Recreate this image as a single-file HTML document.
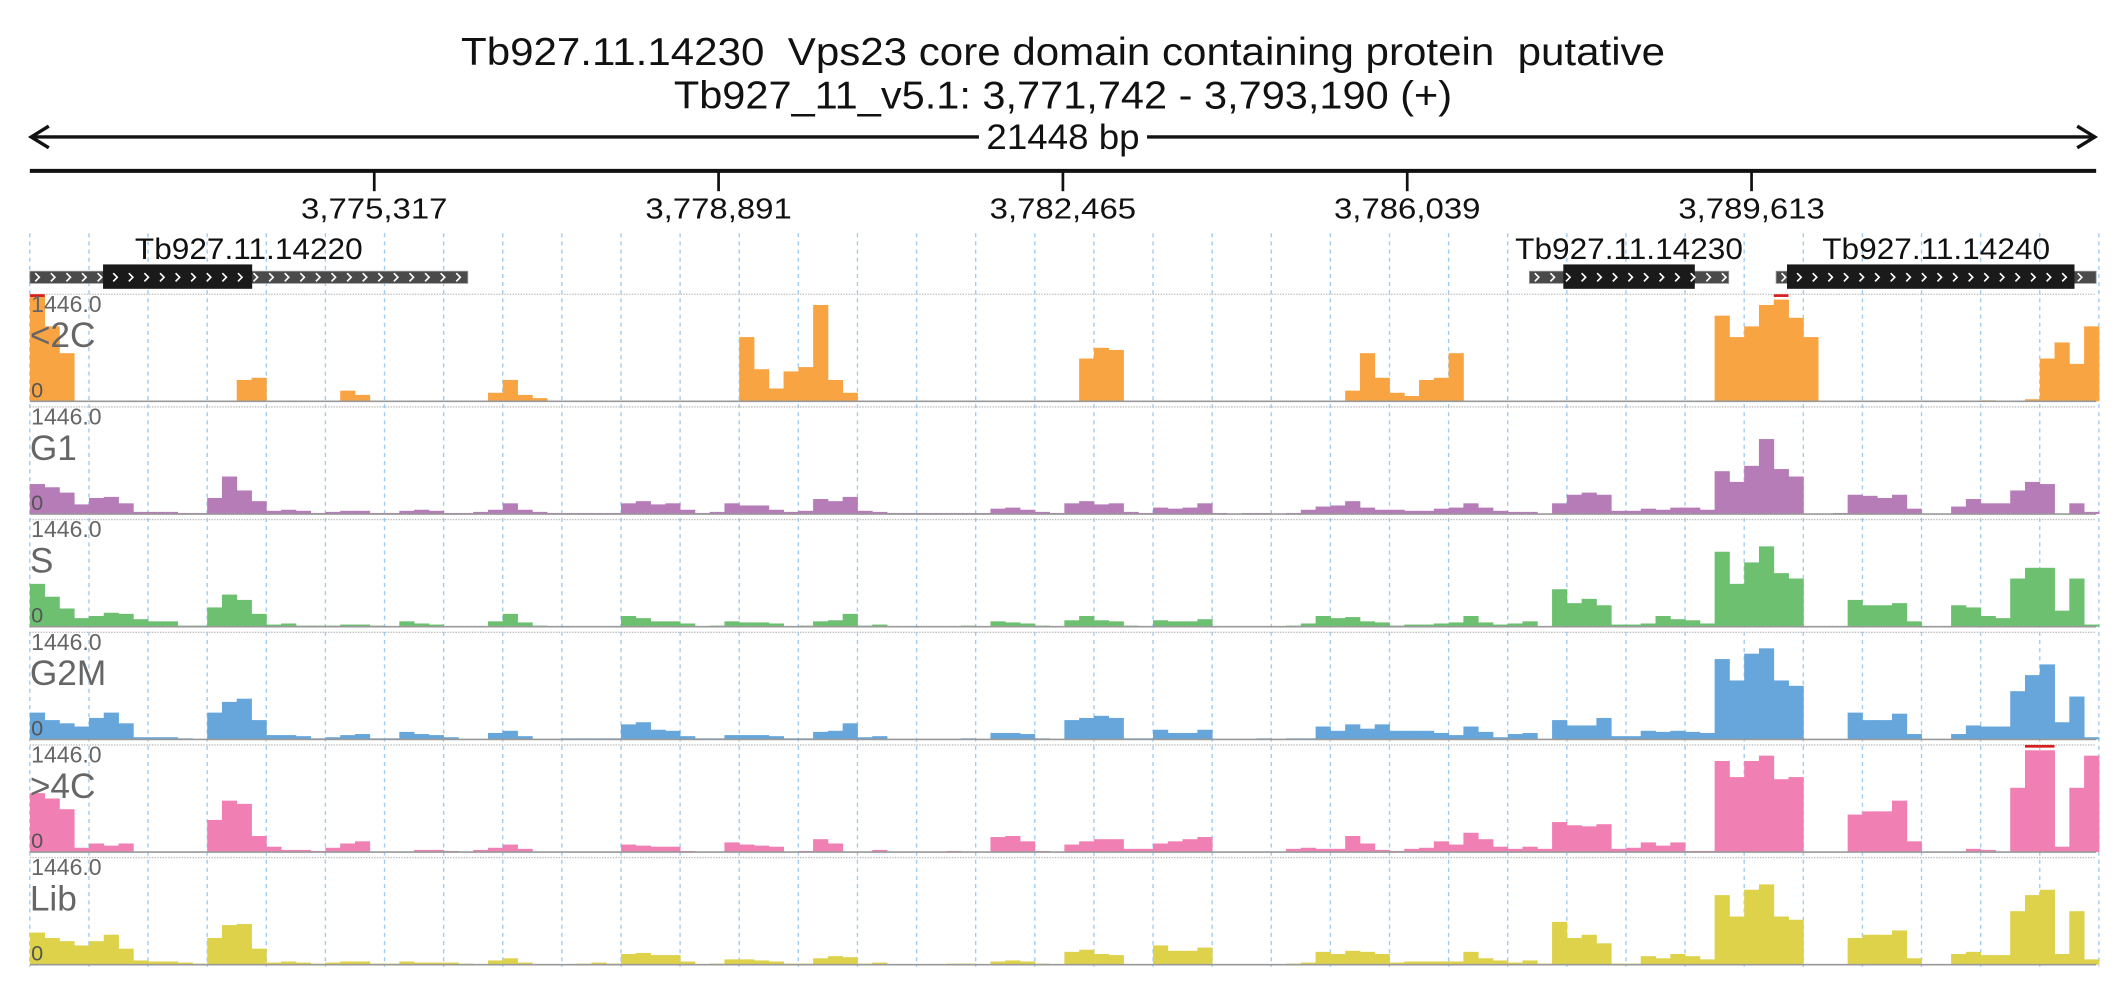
<!DOCTYPE html>
<html><head><meta charset="utf-8"><style>
html,body{margin:0;padding:0;background:#fff;}
svg{display:block;font-family:"Liberation Sans",sans-serif;}
text{white-space:pre;}
</style></head><body>
<svg id="chart" width="2126" height="1000" viewBox="0 0 1568 737.5" xmlns="http://www.w3.org/2000/svg">
<rect x="0" y="0" width="1568" height="737.5" fill="#fff"/>
<text x="784" y="48" font-size="29" text-anchor="middle" fill="#111" textLength="888" lengthAdjust="spacingAndGlyphs">Tb927.11.14230  Vps23 core domain containing protein  putative</text>
<text x="784" y="80" font-size="29" text-anchor="middle" fill="#111" textLength="574" lengthAdjust="spacingAndGlyphs">Tb927_11_v5.1: 3,771,742 - 3,793,190 (+)</text>
<g stroke="#111" stroke-width="2.5" fill="none">
<line x1="24" y1="101" x2="722" y2="101"/><line x1="846" y1="101" x2="1544" y2="101"/>
<polyline points="36,93 23,101 36,109"/><polyline points="1532,93 1545,101 1532,109"/>
</g>
<text x="784" y="110" font-size="26" text-anchor="middle" fill="#111" textLength="113" lengthAdjust="spacingAndGlyphs">21448 bp</text>
<line x1="22" y1="126" x2="1546" y2="126" stroke="#111" stroke-width="3"/>
<g id="ticks"></g>
<g id="grid"></g>
<g id="genes"></g>
<g id="tracks"></g>
</svg>
<script>
const tickLabels = ["3,775,317","3,778,891","3,782,465","3,786,039","3,789,613"];
const tickPositions = [3775317,3778891,3782465,3786039,3789613];
const trackNames = ["<2C","G1","S","G2M",">4C","Lib"];
const maxValue = 1446.0;
const genes = ["Tb927.11.14220","Tb927.11.14230","Tb927.11.14240"];
const geneStart = [3771742,3787307,3789868];
const geneEnd = [3776288,3789376,3793190];
const cdsStart = [3772502,3787659,3789981];
const cdsEnd = [3774050,3789024,3792965];
const v2C = [100,70,45,0,0,0,0,0,0,0,0,0,0,0,20,22,0,0,0,0,0,10,6,0,0,0,0,0,0,0,0,8,20,6,3,0,0,0,0,0,0,0,0,0,0,0,0,0,60,30,12,28,32,90,20,8,0,0,0,0,0,0,0,0,0,0,0,0,0,0,0,40,50,48,0,0,0,0,0,0,0,0,0,0,0,0,0,0,0,10,45,22,8,5,20,22,45,0,0,0,0,0,0,0,0,0,0,0,0,0,0,0,0,0,80,60,70,90,95,78,60,0,0,0,0,0,0,0,0,0,0,0,1,0,0,2,40,55,35,70];
const vG1 = [28,25,20,9,15,16,10,2,2,2,1,1,15,35,22,12,3,4,3,1,2,3,3,1,1,3,4,3,1,1,2,4,10,4,2,1,1,1,1,1,10,12,9,10,4,1,2,10,8,8,4,2,3,14,12,16,3,2,1,1,1,1,1,1,1,5,6,4,2,1,10,12,9,10,2,1,6,5,6,10,1,0,1,1,0,1,4,7,8,12,6,4,4,3,3,5,6,10,6,3,2,2,0,10,18,20,18,3,3,5,4,6,6,4,40,30,45,70,42,35,0,0,1,18,17,15,18,5,0,0,7,14,10,10,22,30,28,0,10,2];
const vS = [40,28,17,8,10,13,12,7,5,5,1,1,18,30,25,12,2,3,1,1,1,2,2,1,0,5,3,2,0,0,0,5,12,4,1,0,0,0,0,0,10,8,5,5,3,0,1,5,4,4,3,0,1,5,6,12,1,2,0,0,0,0,0,1,0,5,4,3,1,0,6,10,6,5,1,0,6,5,5,7,0,0,0,0,0,1,3,10,8,9,5,4,1,2,2,3,4,10,4,2,3,5,0,35,22,26,20,2,2,3,10,7,6,3,70,40,60,75,50,45,0,0,0,25,20,20,22,5,0,0,20,18,10,8,45,55,55,15,45,2];
const vG2M = [25,18,15,12,20,25,15,2,2,2,1,0,25,35,38,18,4,4,3,1,2,4,5,1,1,7,5,4,2,0,0,6,8,3,0,0,1,1,1,1,14,16,9,8,3,1,1,4,4,4,3,1,1,7,8,15,2,3,0,0,0,0,0,1,0,6,6,5,1,0,18,20,22,20,1,1,9,6,6,9,0,0,0,1,0,1,1,12,8,14,10,14,8,8,8,6,4,12,7,2,5,6,0,18,13,13,20,3,3,8,7,8,7,6,75,55,80,85,55,50,0,0,0,25,18,18,24,5,0,0,5,13,12,12,45,60,70,16,40,2];
const v4C = [55,50,40,4,8,6,8,0,0,0,0,0,30,48,45,15,5,2,2,1,4,8,10,0,0,0,2,2,1,0,2,4,7,3,0,0,0,0,0,0,7,6,5,5,1,0,0,9,7,6,5,0,1,12,8,0,0,2,0,0,0,0,1,0,0,14,15,10,1,0,7,10,12,12,3,3,8,10,12,14,0,0,0,0,0,3,4,3,3,15,8,2,1,3,4,10,7,18,12,5,3,5,3,28,25,24,26,3,4,9,6,9,1,1,85,70,85,90,68,70,0,0,0,35,38,38,48,10,0,0,0,3,2,0,60,95,95,5,60,90];
const vLib = [30,25,22,18,22,28,15,4,3,3,2,1,25,37,38,15,2,3,2,1,2,3,3,1,1,3,2,2,2,1,0,4,6,2,0,0,0,1,2,1,10,11,9,9,3,0,1,5,5,4,3,1,1,6,8,7,1,2,0,0,0,0,1,1,0,3,4,3,1,0,12,14,10,9,0,0,18,13,13,16,0,0,0,0,0,1,2,12,10,13,12,10,2,3,3,3,3,12,6,4,2,4,1,40,25,28,20,1,1,8,6,10,8,5,65,45,70,75,45,42,0,0,0,25,28,28,32,6,0,0,10,12,9,9,50,65,70,10,50,5];
const trackValues = [v2C,vG1,vS,vG2M,v4C,vLib];
const trackColors = ["#f9a443","#b57cb8","#6cc070","#66a6da","#f080b4","#ddd24a"];

const NS = "http://www.w3.org/2000/svg";
const X0 = 22, X1 = 1546, G0 = 3771742, G1 = 3793190;
function gx(p){ return X0 + (p - G0) / (G1 - G0) * (X1 - X0); }
const NB = 140, BW = (1548 - X0) / NB;
function bx(i){ return X0 + i * BW; }
function mk(tag, attrs, parent){ const e = document.createElementNS(NS, tag); for (const k in attrs) e.setAttribute(k, attrs[k]); parent.appendChild(e); return e; }

const ticksG = document.getElementById('ticks');
tickPositions.forEach((p, i) => {
  const l = mk('line', {x1: gx(p), x2: gx(p), y1: 126, y2: 141, stroke: '#111', 'stroke-width': 2}, ticksG);
  
  
  const t = mk('text', {x: gx(p), y: 161, 'font-size': 21, 'text-anchor': 'middle', fill: '#111', textLength: 108, lengthAdjust: 'spacingAndGlyphs'}, ticksG);
  t.textContent = tickLabels[i];
  
  
});

const gridG = document.getElementById('grid');
for (let k = 0; k <= 35; k++) {
  const x = X0 + k * 43.6;
  const l = mk('line', {x1: x, x2: x, y1: 172, y2: 713, stroke: '#9ecbf0', 'stroke-width': 1, 'stroke-dasharray': '3,3'}, gridG);
  
  
}

const genesG = document.getElementById('genes');
genes.forEach((name, i) => {
  const g = mk('g', {}, genesG);
  
  
  const a = gx(geneStart[i]), b = gx(geneEnd[i]), c = gx(cdsStart[i]), d = gx(cdsEnd[i]);
  mk('rect', {x: a, y: 200, width: b - a, height: 9, fill: '#4a4a4a', stroke: '#999', 'stroke-width': 0.6}, g);
  mk('rect', {x: c, y: 195, width: d - c, height: 18, fill: '#1a1a1a'}, g);
  for (let x = a + 4; x < b - 4; x += 11.5) {
    mk('polyline', {points: `${x},201.5 ${x+3},204.5 ${x},207.5`, fill: 'none', stroke: '#fff', 'stroke-width': 1.2}, g);
  }
  const t = mk('text', {x: (a + b) / 2, y: 191, 'font-size': 22, 'text-anchor': 'middle', fill: '#111', textLength: 168, lengthAdjust: 'spacingAndGlyphs'}, g);
  t.textContent = name;
  
  
});

const tracksG = document.getElementById('tracks');
const TH = 79, TS = 83.1, T0 = 217;
trackNames.forEach((name, ti) => {
  const top = T0 + ti * TS, base = top + TH;
  const g = mk('g', {}, tracksG);
  
  
  mk('line', {x1: X0, x2: X1, y1: top, y2: top, stroke: '#bbb', 'stroke-width': 1, 'stroke-dasharray': '1,1'}, g);
  const vals = trackValues[ti];
  function y(v){ return base - v / 100 * TH; }
  vals.forEach((v, i) => {
    if (v <= 0) return;
    const r = mk('rect', {x: bx(i), y: y(v), width: BW + 0.3, height: base - y(v), fill: trackColors[ti]}, g);
    
    
    if (v >= 95) mk('rect', {x: bx(i), y: top, width: BW, height: 2, fill: '#d62020'}, g);
  });
  mk('line', {x1: X0, x2: X1, y1: base, y2: base, stroke: '#999', 'stroke-width': 1.2}, g);
  const mx = mk('text', {x: 23, y: top + 13, 'font-size': 17, fill: '#666'}, g);
  mx.textContent = maxValue.toFixed(1);
  
  
  const nm = mk('text', {x: 22, y: top + 39, 'font-size': 26, fill: '#666'}, g);
  nm.textContent = name;
  
  
  const z = mk('text', {x: 23, y: base - 3, 'font-size': 16, fill: '#555'}, g);
  z.textContent = '0';
  
  
});
</script>
</body></html>
